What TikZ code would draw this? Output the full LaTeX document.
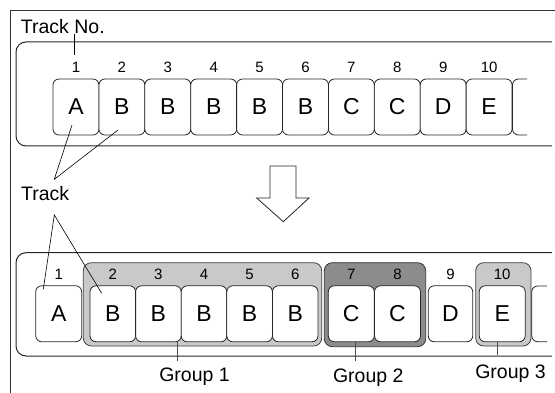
\documentclass[tikz,border=0pt]{standalone}
\usepackage{fontspec}
\setmainfont{Liberation Sans}
\begin{document}
\begin{tikzpicture}[x=1pt,y=-1pt,
  trk/.style={draw=black!85, fill=white, rounded corners=6pt, line width=0.8pt,
    minimum width=46pt, minimum height=56pt, inner sep=0pt,
    font=\fontsize{23}{27}\selectfont},
  num/.style={anchor=base, inner sep=0pt, font=\fontsize{15}{18}\selectfont},
  lbl/.style={inner sep=0pt, font=\fontsize{19.5}{23}\selectfont},
  band/.style={draw=black!85, line width=1pt, rounded corners=10pt},
  grpL/.style={draw=black!75, fill=black!21, line width=0.8pt, rounded corners=8pt},
  grpD/.style={draw=black!80, fill=black!45, line width=0.8pt, rounded corners=8pt},
  ptr/.style={draw=black, line width=0.6pt}]
\useasboundingbox (0,0) rectangle (555,393);
% outer frame
\draw[black!80, line width=1pt] (555,11) -| (10,393);
% ---------- top band ----------
\draw[band] (552,42) -| (16,146) -- (552,146);
\foreach \i/\t in {1/A,2/B,3/B,4/B,5/B,6/B,7/C,8/C,9/D,10/E}{
  \node[trk] (t\i) at ({76+45.9*(\i-1)},107) {\t};
  \node[num] (tn\i) at ({76+45.9*(\i-1)},72.7) {\i};
}
\draw[draw=black!85, line width=0.8pt, rounded corners=6pt] (527,79) -| (512.5,135) -- (527,135);
\node[lbl, anchor=base west] (trackno) at (20.7,33.3) {Track No.};
\coordinate (tnfoot) at (74,34);
\draw[ptr] (tnfoot) -- (74,55);
% ---------- arrow ----------
\draw[black!85, line width=0.8pt, fill=white] (270,166) -- (296,166) -- (296,198) -- (309,198)
  -- (283.3,221.7) -- (256.7,198) -- (270,198) -- cycle;
% ---------- Track label ----------
\node[lbl, anchor=base west] (track) at (21,200.7) {Track};
\coordinate (apexU) at (54.3,179.3);
\coordinate (apexD) at (54.3,215);
\coordinate (pA) at (72,125);
\coordinate (pB) at (118,130);
\coordinate (qA) at (43.3,289.3);
\coordinate (qB) at (101.7,293.3);
% ---------- bottom band ----------
\draw[band] (552,252.7) -| (16,356) -- (552,356);
\draw[grpL] (83.3,262.7) rectangle (321.7,346);
\draw[grpD] (324.3,262.7) rectangle (425.7,346.7);
\draw[grpL] (475.7,262.7) rectangle (531,346);
\node[trk] (b1) at (58.7,313.8) {A};
\node[num] (bn1) at (58.7,279.5) {1};
\foreach \i [evaluate=\i as \x using {112.8+45.6*(\i-2)}] in {2,...,6}{
  \node[trk, minimum width=45.6pt] (b\i) at (\x,313.8) {B};
  \node[num] (bn\i) at (\x,279.5) {\i};
}
\node[trk] (b7) at (351.3,313.8) {C};
\node[num] (bn7) at (351.3,279.5) {7};
\node[trk] (b8) at (397.5,313.8) {C};
\node[num] (bn8) at (397.5,279.5) {8};
\node[trk, minimum width=44.5pt] (b9) at (450.5,313.8) {D};
\node[num] (bn9) at (450.5,279.5) {9};
\node[trk] (b10) at (502.2,313.8) {E};
\node[num] (bn10) at (502.2,279.5) {10};
\draw[draw=black!85, line width=0.8pt, rounded corners=6pt] (547,286) -| (531.7,341.7) -- (547,341.7);
% track pointers
\draw[ptr] (pA) -- (apexU) -- (pB);
\draw[ptr] (qA) -- (apexD) -- (qB);
% group labels
\node[lbl, anchor=base] (g1) at (194.5,381.7) {Group 1};
\node[lbl, anchor=base] (g2) at (368.3,382.7) {Group 2};
\node[lbl, anchor=base] (g3) at (510.5,378.3) {Group 3};
\coordinate (g1top) at (177.7,361);
\coordinate (g2top) at (355.7,360.5);
\coordinate (g3top) at (497.7,355);
\draw[ptr, black!70] (177.7,341.7) -- (g1top);
\draw[ptr, black!70] (355.7,341.7) -- (g2top);
\draw[ptr, black!70] (497.7,341.7) -- (g3top);
\end{tikzpicture}
\end{document}
